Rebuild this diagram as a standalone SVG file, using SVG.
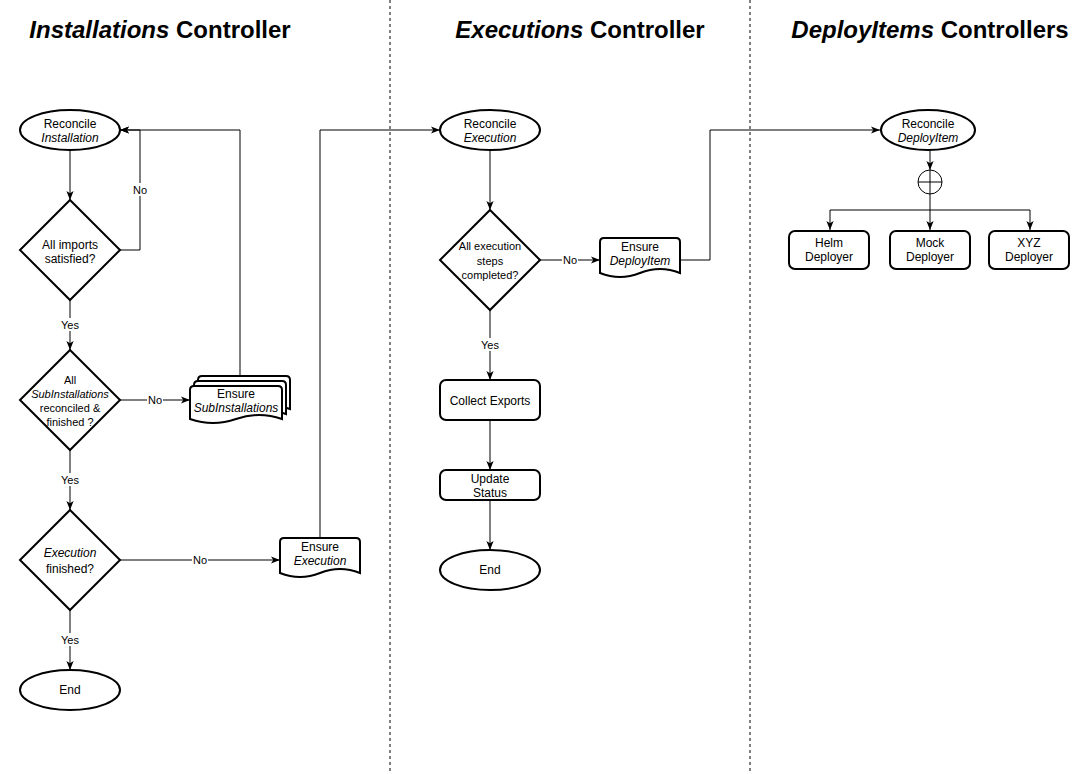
<svg xmlns="http://www.w3.org/2000/svg" width="1091" height="774" viewBox="0 0 1091 774">
<style>
text{font-family:"Liberation Sans",Arial,sans-serif;fill:#000}
.t{font-size:12px;text-anchor:middle}
.s{font-size:11px;text-anchor:middle}
.title{font-size:24px;font-weight:bold;text-anchor:middle}
.i{font-style:italic}
.shape{fill:#fff;stroke:#000;stroke-width:2}
.edge{fill:none;stroke:#000;stroke-width:1}
.lbg{fill:#fff}
.div{stroke:#000;stroke-width:1;stroke-dasharray:3 3}
</style>
<defs>
<marker id="arr" viewBox="0 0 10 10" refX="10" refY="5" markerWidth="9" markerHeight="9" markerUnits="userSpaceOnUse" orient="auto">
<path d="M0,1 L10,5 L0,9 L2.5,5 Z" fill="#000"/>
</marker>
</defs>
<rect width="1091" height="774" fill="#fff"/>
<g id="titles">
<text class="title" x="160" y="38"><tspan class="i">Installations</tspan> Controller</text>
<text class="title" x="580" y="38"><tspan class="i">Executions</tspan> Controller</text>
<text class="title" x="930" y="38"><tspan class="i">DeployItems</tspan> Controllers</text>
</g>
<g id="dividers">
<line class="div" x1="390" y1="0" x2="390" y2="772"/>
<line class="div" x1="750" y1="0" x2="750" y2="772"/>
</g>
<g id="connectors">
<path class="edge" d="M70,150 V200" marker-end="url(#arr)"/>
<path class="edge" d="M120,250 H140 V130 H120" marker-end="url(#arr)"/>
<path class="edge" d="M70,300 V350" marker-end="url(#arr)"/>
<path class="edge" d="M120,400 H190" marker-end="url(#arr)"/>
<path class="edge" d="M240,376 V130 H120" marker-end="url(#arr)"/>
<path class="edge" d="M70,450 V510" marker-end="url(#arr)"/>
<path class="edge" d="M120,560 H280" marker-end="url(#arr)"/>
<path class="edge" d="M70,610 V670" marker-end="url(#arr)"/>
<path class="edge" d="M320,538 V130 H440" marker-end="url(#arr)"/>
<path class="edge" d="M490,150 V210" marker-end="url(#arr)"/>
<path class="edge" d="M540,260 H600" marker-end="url(#arr)"/>
<path class="edge" d="M490,310 V380" marker-end="url(#arr)"/>
<path class="edge" d="M490,420 V470" marker-end="url(#arr)"/>
<path class="edge" d="M490,500 V550" marker-end="url(#arr)"/>
<path class="edge" d="M680,260 H710 V130 H880" marker-end="url(#arr)"/>
<path class="edge" d="M930,150 V170" marker-end="url(#arr)"/>
<path class="edge" d="M930,194 V230" marker-end="url(#arr)"/>
<path class="edge" d="M930,210 H830 V230" marker-end="url(#arr)"/>
<path class="edge" d="M930,210 H1030 V230" marker-end="url(#arr)"/>
<g id="edge-labels">
<rect class="lbg" x="132" y="183" width="16" height="13"/><text class="s" x="140" y="194">No</text>
<rect class="lbg" x="60" y="318" width="20" height="13"/><text class="s" x="70" y="329">Yes</text>
<rect class="lbg" x="147" y="393" width="16" height="13"/><text class="s" x="155" y="404">No</text>
<rect class="lbg" x="60" y="473" width="20" height="13"/><text class="s" x="70" y="484">Yes</text>
<rect class="lbg" x="192" y="553" width="16" height="13"/><text class="s" x="200" y="564">No</text>
<rect class="lbg" x="60" y="633" width="20" height="13"/><text class="s" x="70" y="644">Yes</text>
<rect class="lbg" x="562" y="253" width="16" height="13"/><text class="s" x="570" y="264">No</text>
<rect class="lbg" x="480" y="338" width="20" height="13"/><text class="s" x="490" y="349">Yes</text>
</g>
</g>
<g id="reconcile-installation">
<ellipse class="shape" cx="70" cy="130" rx="50" ry="20"/>
<text class="t" x="70" y="128">Reconcile</text>
<text class="t i" x="70" y="142">Installation</text>
</g>
<g id="imports-satisfied">
<path class="shape" d="M70,200 L120,250 L70,300 L20,250 Z"/>
<text class="t" x="70" y="249">All imports</text>
<text class="t" x="70" y="263">satisfied?</text>
</g>
<g id="subinstallations-done">
<path class="shape" d="M70,350 L120,400 L70,450 L20,400 Z"/>
<text class="s" x="70" y="384">All</text>
<text class="s i" x="70" y="398">SubInstallations</text>
<text class="s" x="70" y="412">reconciled &amp;</text>
<text class="s" x="70" y="426">finished ?</text>
</g>
<g id="ensure-subinstallations">
<path class="shape" d="M198,380 Q198,376 202,376 H286 Q290,376 290,380 V409 Q267,401 244,409 Q221,417 198,409 Z"/>
<path class="shape" d="M194,385 Q194,381 198,381 H282 Q286,381 286,385 V414 Q263,406 240,414 Q217,422 194,414 Z"/>
<path class="shape" d="M190,390 Q190,386 194,386 H278 Q282,386 282,390 V419 Q259,411 236,419 Q213,427 190,419 Z"/>
<text class="t" x="236" y="398">Ensure</text>
<text class="t i" x="236" y="412">SubInstallations</text>
</g>
<g id="execution-finished">
<path class="shape" d="M70,510 L120,560 L70,610 L20,560 Z"/>
<text class="t i" x="70" y="557">Execution</text>
<text class="t" x="70" y="573">finished?</text>
</g>
<g id="ensure-execution">
<path class="shape" d="M280,542 Q280,538 284,538 H356 Q360,538 360,542 V573 Q340,565 320,573 Q300,581 280,573 Z"/>
<text class="t" x="320" y="551">Ensure</text>
<text class="t i" x="320" y="565">Execution</text>
</g>
<g id="end-installation">
<ellipse class="shape" cx="70" cy="690" rx="50" ry="20"/>
<text class="t" x="70" y="694">End</text>
</g>
<g id="reconcile-execution">
<ellipse class="shape" cx="490" cy="130" rx="50" ry="20"/>
<text class="t" x="490" y="128">Reconcile</text>
<text class="t i" x="490" y="142">Execution</text>
</g>
<g id="steps-completed">
<path class="shape" d="M490,210 L540,260 L490,310 L440,260 Z"/>
<text class="s" x="490" y="250">All execution</text>
<text class="s" x="490" y="265">steps</text>
<text class="s" x="490" y="279">completed?</text>
</g>
<g id="ensure-deployitem">
<path class="shape" d="M600,242 Q600,238 604,238 H676 Q680,238 680,242 V273 Q660,265 640,273 Q620,281 600,273 Z"/>
<text class="t" x="640" y="251">Ensure</text>
<text class="t i" x="640" y="265">DeployItem</text>
</g>
<g id="collect-exports">
<rect class="shape" x="440" y="380" width="100" height="40" rx="6"/>
<text class="t" x="490" y="405">Collect Exports</text>
</g>
<g id="update-status">
<rect class="shape" x="440" y="470" width="100" height="30" rx="6"/>
<text class="t" x="490" y="483">Update</text>
<text class="t" x="490" y="497">Status</text>
</g>
<g id="end-execution">
<ellipse class="shape" cx="490" cy="570" rx="50" ry="20"/>
<text class="t" x="490" y="574">End</text>
</g>
<g id="reconcile-deployitem">
<ellipse class="shape" cx="928" cy="130" rx="47" ry="20"/>
<text class="t" x="928" y="128">Reconcile</text>
<text class="t i" x="928" y="142">DeployItem</text>
</g>
<g id="or-gate">
<circle cx="930" cy="182" r="12" fill="#fff" stroke="#000" stroke-width="1"/>
<line x1="918" y1="182" x2="942" y2="182" stroke="#000" stroke-width="1"/>
<line x1="930" y1="170" x2="930" y2="194" stroke="#000" stroke-width="1"/>
</g>
<g id="helm-deployer">
<rect class="shape" x="789" y="231" width="80" height="38" rx="6"/>
<text class="t" x="829" y="247">Helm</text>
<text class="t" x="829" y="261">Deployer</text>
</g>
<g id="mock-deployer">
<rect class="shape" x="890" y="231" width="80" height="38" rx="6"/>
<text class="t" x="930" y="247">Mock</text>
<text class="t" x="930" y="261">Deployer</text>
</g>
<g id="xyz-deployer">
<rect class="shape" x="989" y="231" width="80" height="38" rx="6"/>
<text class="t" x="1029" y="247">XYZ</text>
<text class="t" x="1029" y="261">Deployer</text>
</g>
</svg>
